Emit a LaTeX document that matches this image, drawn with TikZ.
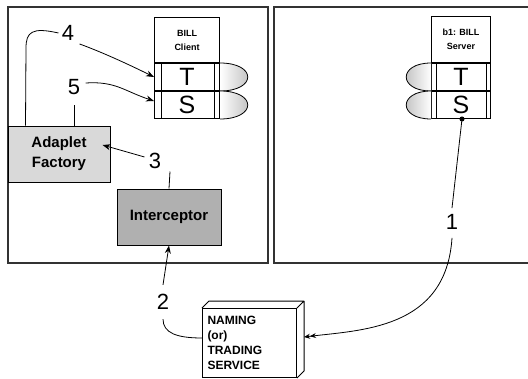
\documentclass[tikz,border=0pt]{standalone}
\usepackage{fontspec}
\setmainfont{Liberation Sans}
\usetikzlibrary{arrows.meta}

\tikzset{
  panel/.style={draw=black!80,line width=1.2pt},
  box/.style={draw,line width=1pt,inner sep=1pt},
  row/.style={box,anchor=north,minimum width=65,minimum height=27,font=\fontsize{25}{25}\selectfont},
  srow/.style={row,minimum width=59},
  num/.style={font=\fontsize{22}{22}\selectfont,inner sep=1pt},
  lobe/.style={draw,line width=.8pt},
}

\begin{document}
\begin{tikzpicture}[x=1pt,y=-1pt,line width=.8pt,>={Stealth[length=8pt,width=6pt]}]
\clip (0,0) rectangle (528,378);
\draw[panel] (8,7) rectangle (268,263);
\draw[panel] (274,7) rectangle (540,263);

% client side
\node[box,anchor=north west,minimum width=65,minimum height=45,align=center,
  font=\bfseries\fontsize{9}{14}\selectfont] (cl) at (154,17) {BILL\\Client};
\node[row] (clT) at (cl.south) {T};
\node[row] (clS) at (clT.south) {S};
\draw ([xshift=7]clT.north west) -- ([xshift=7]clS.south west);
\draw ([xshift=-6]clT.north east) -- ([xshift=-6]clS.south east);
\foreach \r in {clT,clS}{
  \draw[lobe,left color=white,right color=gray!60] (\r.north east) .. controls +(37,0) and +(37,0) .. (\r.south east);}

% server side
\node[box,anchor=north west,minimum width=59,minimum height=46,align=center,
  font=\bfseries\fontsize{9}{14}\selectfont] (sv) at (431,16) {b1: BILL\\Server};
\node[srow] (svT) at (sv.south) {T};
\node[srow] (svS) at (svT.south) {S};
\draw ([xshift=5]svT.north west) -- ([xshift=5]svS.south west);
\draw ([xshift=-5]svT.north east) -- ([xshift=-5]svS.south east);
\foreach \r in {svT,svS}{
  \draw[lobe,left color=gray!60,right color=white] (\r.north west) .. controls +(-33,0) and +(-33,0) .. (\r.south west);}
\node[circle,fill,inner sep=1.8pt] (dot) at ([xshift=1]svS.south) {};

% factory, interceptor, naming service
\node[box,fill=gray!30,minimum width=102,minimum height=56,align=center,
  font=\bfseries\fontsize{15}{20}\selectfont] (fac) at (59,154) {Adaplet\\Factory};
\node[box,fill=gray!62,minimum width=104,minimum height=56,
  font=\bfseries\fontsize{15}{15}\selectfont] (int) at (169,217) {Interceptor};
\node[box,fill=white,anchor=north west,minimum width=94,minimum height=69,text width=84,
  inner xsep=5,align=left,font=\bfseries\fontsize{12}{15}\selectfont] (nm) at (202,308)
  {NAMING\\(or)\\TRADING\\SERVICE};
\draw[line width=1pt,line join=round] (nm.north west) -- ++(7,-7) -- ([shift={(7,-7)}]nm.north east)
  -- ([shift={(7,-7)}]nm.south east) -- (nm.south east) (nm.north east) -- ++(7,-7);

% step numbers
\node[num] (n4) at (68,33) {4};
\node[num] (n5) at (74,87) {5};
\node[num] (n3) at (155,161) {3};
\node[num] (n2) at (163,302) {2};
\node[num] (n1) at (452,222) {1};

% connectors
\draw[->] ([shift={(4,2)}]n4.south east) .. controls +(25,9) and +(-18,-9) .. (clT.west);
\draw[->] ([shift={(4,-4)}]n5.east) .. controls +(30,-2) and +(-30,-10) .. ([yshift=4]clS.west);
\draw ([xshift=18]fac.north west) -- (26,48) .. controls (26,32) and (32,27) .. ([xshift=-2]n4.west);
\draw ([yshift=-9]n5.south) -- (n5.south |- fac.north);
\draw[->] ([xshift=-3,yshift=4]n3.west) -- ([xshift=-8,yshift=9]fac.east);
\draw (int.north) -- ++(1,-17);
\draw[->] ([yshift=8]n2.north) -- (int.south);
\draw ([yshift=-8]n2.south) .. controls +(0,14) and +(-25,0) .. ([yshift=5]nm.west);
\draw (dot.center) -- ([yshift=5]n1.north);
\draw[-{Stealth[length=6pt,width=5pt]Stealth[length=6pt,width=5pt]}] ([yshift=-7]n1.south)
  .. controls (446,330) and (360,330) .. ([xshift=7,yshift=6]nm.east);
\end{tikzpicture}
\end{document}
